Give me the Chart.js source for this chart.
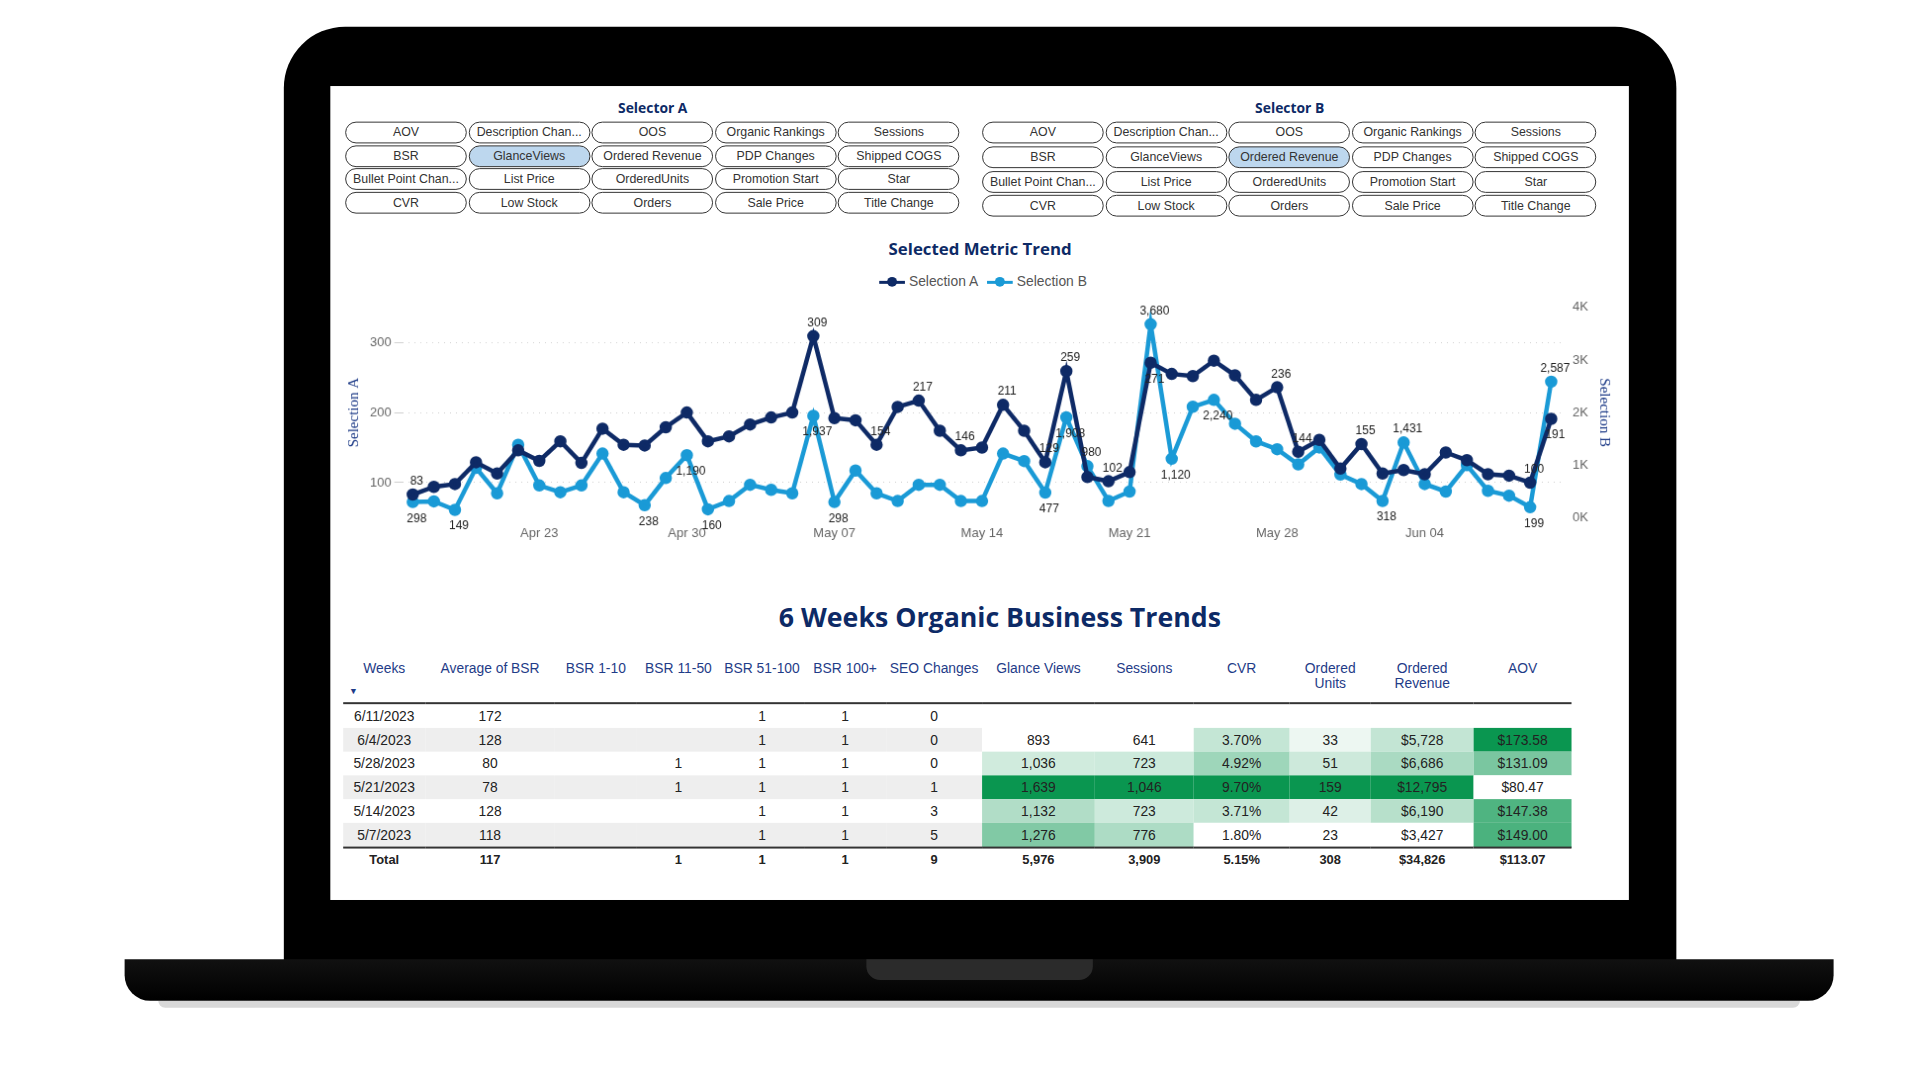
<!DOCTYPE html>
<html>
<head>
<meta charset="utf-8">
<script src="https://cdn.jsdelivr.net/npm/chart.js@4"></script>
<style>
  body { margin: 0; background: #fff; width: 1920px; height: 1080px; overflow: hidden; font-family: "Liberation Sans", Arial, sans-serif; }
  #wrap { position: absolute; left: 0; top: 0; width: 1920px; height: 1080px; transform: scale(0.989); transform-origin: 0 0; }
  .abs { position: absolute; }
  #bezel { left: 287px; top: 27px; width: 1408px; height: 960px; background: #000; border-radius: 62px 62px 0 0; }
  #screen { left: 334px; top: 87px; width: 1313px; height: 823px; background: #fff; }
  #base { left: 126px; top: 970px; width: 1728px; height: 42px; background: linear-gradient(#111, #000); border-radius: 0 0 26px 26px; }
  #notch { left: 876px; top: 970px; width: 229px; height: 21px; background: #2b2b2b; border-radius: 0 0 14px 14px; }
  #shadow { left: 160px; top: 1012px; width: 1660px; height: 7px; background: #d8d8d8; border-radius: 0 0 20px 20px; }
  .sel-title { font-family: "Open Sans", sans-serif; font-weight: bold; color: #0d2a66; font-size: 14px; transform: translateX(-50%); }
  .btn { width: 121px; height: 20px; border: 1.4px solid #333; border-radius: 11px; font-size: 12.5px; color: #333; text-align: center; line-height: 20px; white-space: nowrap; overflow: hidden; background: #fff; }
  .btn.on { background: #bdd7ee; }
  #ctitle { left: 991px; top: 240px; transform: translateX(-50%); font-family: "Open Sans", sans-serif; font-weight: bold; font-size: 17px; color: #0d2a66; }
  #legend { left: 991px; top: 276px; transform: translateX(-50%); font-size: 14px; color: #555; white-space: nowrap; }
  .lg { display: inline-block; vertical-align: middle; width: 26px; height: 3px; position: relative; margin: 0 4px 0 6px; }
  .lg i { position: absolute; left: 8px; top: -4px; width: 10px; height: 10px; border-radius: 50%; background: inherit; }
  #chartBox { left: 345px; top: 300px; width: 1290px; height: 247px; }
  #ttitle { left: 1011px; top: 605px; transform: translateX(-50%); font-family: "Open Sans", sans-serif; font-weight: bold; font-size: 27px; color: #0d2a66; white-space: nowrap; }
  table { position: absolute; left: 347px; top: 663px; border-collapse: collapse; font-size: 14px; color: #222; table-layout: fixed; }
  th { color: #1f3c88; font-weight: normal; height: 42px; vertical-align: top; padding-top: 4px; line-height: 16px; border-bottom: 2.5px solid #333; position: relative; }
  td { height: 24px; padding: 0; text-align: center; }
  tr.alt td { background: #eeeeee; }
  tr.total td { font-weight: bold; border-top: 2.5px solid #333; font-size: 13px; height: 22px; }
  .arrow { position: absolute; left: 6px; bottom: 3px; font-size: 9px; color: #1f3c88; }
</style>
</head>
<body>
<div id="wrap">
<div class="abs" id="shadow"></div>
<div class="abs" id="bezel"></div>
<div class="abs" id="base"></div>
<div class="abs" id="notch"></div>
<div class="abs" id="screen"></div>
<div id="selectors"></div>
<div class="abs" id="ctitle">Selected Metric Trend</div>
<div class="abs" id="legend"><span class="lg" style="background:#0e2a66"><i></i></span>Selection A <span class="lg" style="background:#1a9ad6"><i></i></span>Selection B</div>
<div class="abs" id="chartBox"><canvas id="myChart"></canvas></div>
<div class="abs" id="ttitle">6 Weeks Organic Business Trends</div>
<table id="tbl"></table>
</div>

<script>
// selector buttons
var selectorItems = [
  ["AOV", "Description Chan...", "OOS", "Organic Rankings", "Sessions"],
  ["BSR", "GlanceViews", "Ordered Revenue", "PDP Changes", "Shipped COGS"],
  ["Bullet Point Chan...", "List Price", "OrderedUnits", "Promotion Start", "Star"],
  ["CVR", "Low Stock", "Orders", "Sale Price", "Title Change"]
];
var selectedA = "GlanceViews";
var selectedB = "Ordered Revenue";

let buildSelector = (title, x0, rowTops, selected) => {
  let html = `<div class="abs sel-title" style="left:${x0 + 311}px;top:99px">${title}</div>`
  selectorItems.forEach((row, r) => {
    row.forEach((name, c) => {
      html += `<div class="abs btn ${name == selected ? 'on' : ''}" style="left:${x0 + c * 124.6}px;top:${rowTops[r]}px">${name}</div>`
    })
  })
  return html
}
document.getElementById('selectors').innerHTML =
  buildSelector("Selector A", 349, [123, 147, 170, 194], selectedA) +
  buildSelector("Selector B", 993, [123, 148, 173, 197], selectedB)

// chart data, Apr 17 - Jun 10
var days = [];
(function() {
  let d = new Date(2023, 3, 17)
  for (let i = 0; i < 55; i++) {
    days.push(d.toLocaleDateString('en-US', { month: 'short', day: '2-digit' }))
    d.setDate(d.getDate() + 1)
  }
}())

var selectionA = [83, 94, 98, 129, 113, 146, 131, 159, 128, 177, 154, 153, 179, 200,
  159, 166, 183, 193, 200, 309, 192, 189, 154, 208, 217, 174, 146, 150,
  211, 174, 129, 259, 108, 102, 115, 271, 255, 252, 274, 253, 218, 236,
  144, 161, 120, 155, 113, 118, 112, 143, 132, 112, 110, 100, 191];
var selectionB = [298, 310, 149, 948, 464, 1387, 613, 484, 613, 1219, 484, 238, 754, 1190,
  160, 317, 626, 530, 464, 1937, 298, 897, 464, 317, 626, 626, 317, 317,
  1219, 1077, 477, 1908, 980, 318, 497, 3680, 1120, 2110, 2240, 1787, 1452, 1303,
  1013, 1335, 819, 639, 318, 1431, 639, 497, 1000, 510, 419, 199, 2587];
// which points carry a data label
var labelsA = [0, 19, 24, 26, 22, 28, 30, 31, 33, 35, 41, 42, 45, 53, 54];
var labelsB = [0, 2, 11, 13, 14, 19, 20, 30, 31, 32, 35, 36, 38, 46, 47, 53, 54];

var labelPlugin = {
  id: 'pointLabels',
  afterDatasetsDraw(chart) {
    let c = chart.ctx
    let mA = chart.getDatasetMeta(0).data
    let mB = chart.getDatasetMeta(1).data
    c.save()
    c.font = '12px "Liberation Sans", Arial'
    c.fillStyle = '#222'
    c.textAlign = 'center'
    let draw = (meta, other, idx, vals) => {
      idx.forEach(i => {
        let p = meta[i], o = other[i]
        let above = p.y <= o.y
        c.fillText(vals[i].toLocaleString('en-US'), p.x + 4, above ? p.y - 10 : p.y + 20)
      })
    }
    draw(mA, mB, labelsA, selectionA)
    draw(mB, mA, labelsB, selectionB)
    c.restore()
  }
}

var ctx = document.getElementById("myChart").getContext('2d');
var myChart = new Chart(ctx, {
  type: 'line',
  data: {
    labels: days,
    datasets: [{
      label: 'Selection A',
      data: selectionA,
      yAxisID: 'yA',
      borderColor: '#0e2a66',
      backgroundColor: '#0e2a66',
      borderWidth: 4.5,
      pointRadius: 4,
      tension: 0
    }, {
      label: 'Selection B',
      data: selectionB,
      yAxisID: 'yB',
      borderColor: '#1a9ad6',
      backgroundColor: '#1a9ad6',
      borderWidth: 4.5,
      pointRadius: 4,
      tension: 0
    }]
  },
  options: {
    responsive: true,
    maintainAspectRatio: false,
    animation: false,
    layout: { padding: { top: 4, right: 0 } },
    plugins: { legend: { display: false }, tooltip: { enabled: false } },
    scales: {
      x: {
        offset: true,
        grid: { display: false },
        border: { display: false },
        ticks: {
          autoSkip: false, maxRotation: 0, color: '#666', font: { size: 13 }, padding: 0,
          callback: function(v, i) { return (i - 6) % 7 == 0 ? days[i] : null }
        }
      },
      yA: {
        position: 'left', min: 50, max: 350,
        afterBuildTicks: a => { a.ticks = [{ value: 100 }, { value: 200 }, { value: 300 }] },
        grid: { color: '#cfcfcf', lineWidth: 1 },
        border: { display: false, dash: [1, 5] },
        ticks: { color: '#666', font: { size: 13 } },
        title: { display: true, text: 'Selection A', color: '#1f3c88', font: { family: '"Liberation Serif", serif', size: 15 } }
      },
      yB: {
        position: 'right', min: 0, max: 4000,
        grid: { display: false },
        border: { display: false },
        ticks: { stepSize: 1000, color: '#666', font: { size: 13 }, callback: v => (v / 1000) + 'K' },
        title: { display: true, text: 'Selection B', color: '#1f3c88', font: { family: '"Liberation Serif", serif', size: 15 } }
      }
    }
  },
  plugins: [labelPlugin]
});

// table data
var tableHeaders = ["Weeks", "Average of BSR", "BSR 1-10", "BSR 11-50", "BSR 51-100", "BSR 100+", "SEO Changes", "Glance Views", "Sessions", "CVR", "Ordered<br>Units", "Ordered<br>Revenue", "AOV"];
var colWidths = [83, 131, 83, 84, 85, 83, 97, 114, 100, 97, 82, 104, 99];
var weeks = ["6/11/2023", "6/4/2023", "5/28/2023", "5/21/2023", "5/14/2023", "5/7/2023"];
var avgBsr = [172, 128, 80, 78, 128, 118];
var bsr1to10 = [null, null, null, null, null, null];
var bsr11to50 = [null, null, 1, 1, null, null];
var bsr51to100 = [1, 1, 1, 1, 1, 1];
var bsr100plus = [1, 1, 1, 1, 1, 1];
var seoChanges = [0, 0, 0, 1, 3, 5];
var glanceViews = [null, 893, 1036, 1639, 1132, 1276];
var sessions = [null, 641, 723, 1046, 723, 776];
var cvr = [null, 3.70, 4.92, 9.70, 3.71, 1.80];
var orderedUnits = [null, 33, 51, 159, 42, 23];
var orderedRevenue = [null, 5728, 6686, 12795, 6190, 3427];
var aov = [null, 173.58, 131.09, 80.47, 147.38, 149.00];
var totals = ["Total", "117", "", "1", "1", "1", "9", "5,976", "3,909", "5.15%", "308", "$34,826", "$113.07"];

let num = v => v == null ? '' : v.toLocaleString('en-US')
let money0 = v => v == null ? '' : '$' + v.toLocaleString('en-US')
let money2 = v => v == null ? '' : '$' + v.toFixed(2)
let pct = v => v == null ? '' : v.toFixed(2) + '%'

let heat = (arr, v) => {
  if (v == null) return ''
  let vals = arr.filter(x => x != null)
  let lo = Math.min(...vals), hi = Math.max(...vals)
  let t = (v - lo) / (hi - lo)
  let r = Math.round(255 + (10 - 255) * t), g = Math.round(255 + (150 - 255) * t), b = Math.round(255 + (80 - 255) * t)
  return `background:rgb(${r},${g},${b})`
}

let renderTable = () => {
  let html = '<colgroup>' + colWidths.map(w => `<col style="width:${w}px">`).join('') + '</colgroup><tr>'
  tableHeaders.forEach((h, i) => { html += `<th>${h}${i == 0 ? '<span class="arrow">&#9660;</span>' : ''}</th>` })
  html += '</tr>'
  let heatCols = [[glanceViews, num], [sessions, num], [cvr, pct], [orderedUnits, num], [orderedRevenue, money0], [aov, money2]]
  weeks.forEach((w, i) => {
    html += `<tr class="${i % 2 == 1 ? 'alt' : ''}">`
    ;[w, avgBsr[i], bsr1to10[i], bsr11to50[i], bsr51to100[i], bsr100plus[i], seoChanges[i]].forEach(v => {
      html += `<td>${v == null ? '' : v}</td>`
    })
    heatCols.forEach(([arr, f]) => {
      let st = heat(arr, arr[i])
      html += `<td style="${st}">${f(arr[i])}</td>`
    })
    html += '</tr>'
  })
  html += '<tr class="total">' + totals.map(t => `<td>${t}</td>`).join('') + '</tr>'
  document.getElementById('tbl').innerHTML = html
}
renderTable()
</script>
</body>
</html>
